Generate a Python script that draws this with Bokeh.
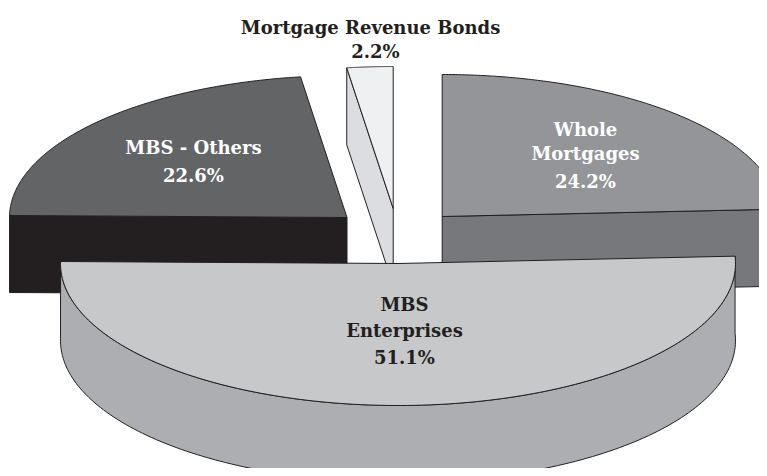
import numpy as np
from bokeh.plotting import figure
from bokeh.models import Range1d
from bokeh.core.properties import value
from bokeh.embed import file_html
from bokeh.resources import INLINE

# Values
slices = ["Whole Mortgages", "MBS Enterprises", "MBS - Others", "Mortgage Revenue Bonds"]
shares = [24.2, 51.1, 22.6, 2.2]

# Exploded centre of each slice in reference pixels
centre_x = [441.7, 397.5, 346.5, 392.7]
centre_y = [216.0, 263.0, 217.0, 208.0]
top_colors = ["#939598", "#c7c8ca", "#636466", "#eff0f2"]
side_colors = ["#77787b", "#adaeb2", "#231f20", "#dcdde0"]

label_lines = ["Mortgage Revenue Bonds", "2.2%", "MBS - Others", "22.6%", "Whole", "Mortgages", "24.2%",
               "MBS", "Enterprises", "51.1%"]
label_x = [370, 375, 193, 193, 585, 585, 585, 404, 404, 404]
label_y = [27, 51, 147, 175, 129, 153, 181, 304, 330, 357]
label_colors = ["#231f20", "#231f20", "#ffffff", "#ffffff", "#ffffff", "#ffffff", "#ffffff",
                "#231f20", "#231f20", "#231f20"]

RX, RY, DEPTH = 337.5, 142.0, 77.0
LINE = "#231f20"

ends = np.cumsum(shares) / np.sum(shares) * 360.0
starts = np.concatenate([[0.0], ends[:-1]])
a0 = np.radians(90.0 - starts)
a1 = np.radians(90.0 - ends)


def arc(i, dy=0.0, n=160):
    t = np.linspace(a0[i], a1[i], n)
    return centre_x[i] + RX * np.cos(t), centre_y[i] - RY * np.sin(t) + dy


# 8 + 759 = 767 and 8 + 468 = 476: the largest figure that fits the window
p = figure(width=759, height=468, x_range=Range1d(0, 759), y_range=Range1d(468, 0),
           toolbar_location=None, output_backend="svg", x_axis_type=None, y_axis_type=None,
           min_border=0, outline_line_color=None)
p.grid.visible = False
p.background_fill_color = "#ffffff"
p.border_fill_color = "#ffffff"


def flat_side(i, which):
    ax, ay = arc(i)
    j = 0 if which == "start" else -1
    xs = [centre_x[i], ax[j], ax[j], centre_x[i]]
    ys = [centre_y[i], ay[j], ay[j] + DEPTH, centre_y[i] + DEPTH]
    return xs, ys


def draw_top(i):
    ax, ay = arc(i)
    p.patch(np.concatenate([[centre_x[i]], ax]), np.concatenate([[centre_y[i]], ay]),
            fill_color=top_colors[i], line_color=LINE, line_width=1, line_join="round")


x, y = flat_side(2, "start")
p.patch(x, y, fill_color=side_colors[2], line_color=LINE, line_width=1)
draw_top(2)

x, y = flat_side(3, "start")
p.patch(x, y, fill_color=side_colors[3], line_color=LINE, line_width=1)
draw_top(3)

x, y = flat_side(0, "end")
p.patch(x, y, fill_color=side_colors[0], line_color=LINE, line_width=1)
draw_top(0)

ax, ay = arc(1)
p.patch(np.concatenate([ax, ax[::-1]]), np.concatenate([ay, ay[::-1] + DEPTH]),
        fill_color=side_colors[1], line_color=LINE, line_width=1)
draw_top(1)

p.text(x=label_x, y=label_y, text=label_lines, text_color=label_colors,
       text_font=value("DejaVu Serif"), text_font_style="bold", text_font_size="18px",
       text_align="center", text_baseline="middle")

open("out.html", "w").write(file_html(p, INLINE))
